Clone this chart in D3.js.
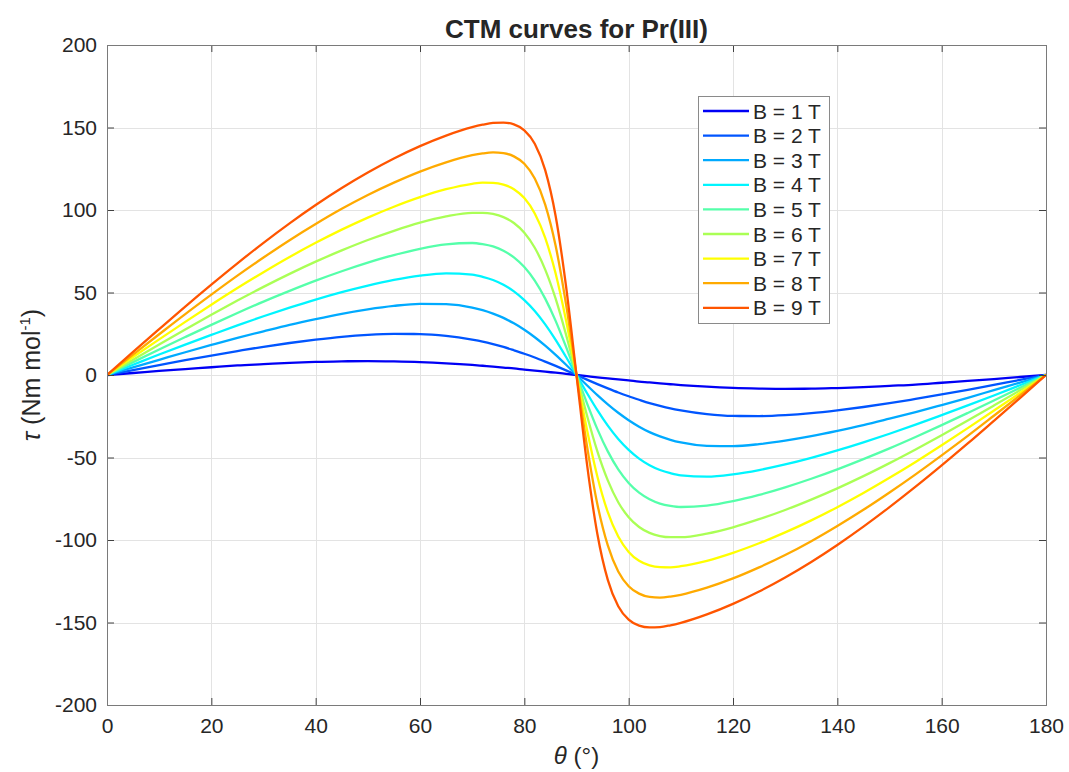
<!DOCTYPE html>
<html>
<head>
<meta charset="utf-8">
<script src="https://cdn.jsdelivr.net/npm/d3@7"></script>
<style>
  body { margin: 0; background: #fff; }
  svg { display: block; }
  text { font-family: "Liberation Sans", Arial, Helvetica, sans-serif; fill: #262626; }
</style>
</head>
<body>
<svg id="chart" width="1069" height="772"></svg>
<script>
// Rotation angle (degrees)
const theta = [0,5,10,15,20,25,30,35,40,45,50,55,60,65,70,72,74,76,78,80,82,84,86,88,90,
               92,94,96,98,100,102,104,106,108,110,115,120,125,130,135,140,145,150,155,160,165,170,175,180];

// Torque (Nm mol^-1) for each applied field
const tauB1 = [0,1.2,2.5,3.6,4.7,5.8,6.6,7.4,7.9,8.3,8.4,8.2,7.8,7.1,6.1,5.6,5.1,4.5,4.0,3.3,2.7,2.0,1.4,0.7,0,
               -0.7,-1.4,-2.0,-2.7,-3.3,-4.0,-4.5,-5.1,-5.6,-6.1,-7.1,-7.8,-8.2,-8.4,-8.3,-7.9,-7.4,-6.6,-5.8,-4.7,-3.6,-2.5,-1.2,0];
const tauB2 = [0,3.0,6.0,9.0,11.8,14.5,17.1,19.4,21.4,23.1,24.3,24.9,24.8,23.7,21.4,20.2,18.7,17.0,15.0,12.9,10.6,8.1,5.5,2.8,0,
               -2.8,-5.5,-8.1,-10.6,-12.9,-15.0,-17.0,-18.7,-20.2,-21.4,-23.7,-24.8,-24.9,-24.3,-23.1,-21.4,-19.4,-17.1,-14.5,-11.8,-9.0,-6.0,-3.0,0];
const tauB3 = [0,4.6,9.2,13.8,18.2,22.5,26.5,30.4,33.9,37.1,39.8,41.9,43.1,42.9,40.9,39.3,37.2,34.6,31.3,27.4,22.9,17.8,12.2,6.2,0,
               -6.2,-12.2,-17.8,-22.9,-27.4,-31.3,-34.6,-37.2,-39.3,-40.9,-42.9,-43.1,-41.9,-39.8,-37.1,-33.9,-30.4,-26.5,-22.5,-18.2,-13.8,-9.2,-4.6,0];
const tauB4 = [0,6.2,12.4,18.4,24.3,30.1,35.6,40.8,45.7,50.2,54.2,57.6,60.2,61.6,60.8,59.5,57.6,54.7,50.7,45.4,38.8,30.7,21.3,10.9,0,
               -10.9,-21.3,-30.7,-38.8,-45.4,-50.7,-54.7,-57.6,-59.5,-60.8,-61.6,-60.2,-57.6,-54.2,-50.2,-45.7,-40.8,-35.6,-30.1,-24.3,-18.4,-12.4,-6.2,0];
const tauB5 = [0,7.8,15.5,23.0,30.4,37.6,44.5,51.0,57.2,62.9,68.1,72.7,76.5,79.2,80.0,79.3,77.9,75.3,71.3,65.4,57.2,46.3,32.8,17.0,0,
               -17.0,-32.8,-46.3,-57.2,-65.4,-71.3,-75.3,-77.9,-79.3,-80.0,-79.2,-76.5,-72.7,-68.1,-62.9,-57.2,-51.0,-44.5,-37.6,-30.4,-23.0,-15.5,-7.8,0];
const tauB6 = [0,9.3,18.5,27.6,36.5,45.1,53.4,61.3,68.7,75.5,81.8,87.4,92.3,96.1,98.3,98.3,97.6,95.7,92.1,86.2,77.1,63.9,46.3,24.4,0,
               -24.4,-46.3,-63.9,-77.1,-86.2,-92.1,-95.7,-97.6,-98.3,-98.3,-96.1,-92.3,-87.4,-81.8,-75.5,-68.7,-61.3,-53.4,-45.1,-36.5,-27.6,-18.5,-9.3,0];
const tauB7 = [0,10.9,21.6,32.2,42.6,52.7,62.3,71.5,80.1,88.1,95.4,102.0,107.8,112.6,115.9,116.6,116.5,115.4,112.6,107.2,97.9,83.1,61.5,33.0,0,
               -33.0,-61.5,-83.1,-97.9,-107.2,-112.6,-115.4,-116.5,-116.6,-115.9,-112.6,-107.8,-102.0,-95.4,-88.1,-80.1,-71.5,-62.3,-52.7,-42.6,-32.2,-21.6,-10.9,0];
const tauB8 = [0,12.4,24.7,36.9,48.7,60.2,71.2,81.7,91.5,100.7,109.1,116.6,123.3,128.9,133.2,134.3,134.9,134.5,132.5,128.0,119.1,103.3,78.3,42.8,0,
               -42.8,-78.3,-103.3,-119.1,-128.0,-132.5,-134.5,-134.9,-134.3,-133.2,-128.9,-123.3,-116.6,-109.1,-100.7,-91.5,-81.7,-71.2,-60.2,-48.7,-36.9,-24.7,-12.4,0];
const tauB9 = [0,14.0,27.8,41.5,54.8,67.7,80.1,91.9,103.0,113.3,122.7,131.2,138.7,145.1,150.2,151.7,152.8,153.0,151.9,148.3,140.2,124.2,96.4,53.7,0,
               -53.7,-96.4,-124.2,-140.2,-148.3,-151.9,-153.0,-152.8,-151.7,-150.2,-145.1,-138.7,-131.2,-122.7,-113.3,-103.0,-91.9,-80.1,-67.7,-54.8,-41.5,-27.8,-14.0,0];

const fieldLabels = ["B = 1 T","B = 2 T","B = 3 T","B = 4 T","B = 5 T","B = 6 T","B = 7 T","B = 8 T","B = 9 T"];
const seriesColors = ["#0000f5","#0055ff","#00aaff","#00f5ff","#55ffaa","#aaff55","#ffff00","#ffaa00","#ff5500"];
const xTicks = [0,20,40,60,80,100,120,140,160,180];
const yTicks = [-200,-150,-100,-50,0,50,100,150,200];

const series = [tauB1,tauB2,tauB3,tauB4,tauB5,tauB6,tauB7,tauB8,tauB9];

const plot = { left: 107, right: 1046, top: 45, bottom: 705 };
const svg = d3.select("#chart");

const x = d3.scaleLinear().domain([0, 180]).range([plot.left, plot.right]);
const y = d3.scaleLinear().domain([-200, 200]).range([plot.bottom, plot.top]);

// grid
const grid = svg.append("g").attr("stroke", "#e3e3e3").attr("stroke-width", 1);
grid.selectAll("line.gx").data(xTicks).join("line")
  .attr("x1", d => Math.round(x(d)) + 0.5).attr("x2", d => Math.round(x(d)) + 0.5)
  .attr("y1", plot.top).attr("y2", plot.bottom);
grid.selectAll("line.gy").data(yTicks).join("line")
  .attr("y1", d => Math.round(y(d)) + 0.5).attr("y2", d => Math.round(y(d)) + 0.5)
  .attr("x1", plot.left).attr("x2", plot.right);

// curves
svg.append("clipPath").attr("id", "plotClip").append("rect")
  .attr("x", plot.left).attr("y", plot.top)
  .attr("width", plot.right - plot.left).attr("height", plot.bottom - plot.top);

const line = d3.line()
  .x((d, i) => x(theta[i]))
  .y(d => y(d))
  .curve(d3.curveMonotoneX);

svg.append("g").attr("clip-path", "url(#plotClip)")
  .selectAll("path").data(series).join("path")
  .attr("d", d => line(d))
  .attr("fill", "none")
  .attr("stroke", (d, i) => seriesColors[i])
  .attr("stroke-width", 2.3)
  .attr("stroke-linejoin", "round");

// axes (ticks point inward, mirrored on top/right)
const tickFont = 21;
const plainNumber = d => String(d);
function styleAxis(g) {
  g.selectAll(".domain").remove();
  g.selectAll(".tick line").attr("stroke", "#404040");
  g.selectAll(".tick text").attr("font-size", tickFont).attr("fill", "#262626")
    .attr("font-family", '"Liberation Sans", Arial, sans-serif');
}
svg.append("g").attr("transform", `translate(0,${plot.bottom})`)
  .call(d3.axisBottom(x).tickValues(xTicks).tickFormat(plainNumber).tickSizeInner(-7).tickSizeOuter(0).tickPadding(13))
  .call(styleAxis);
svg.append("g").attr("transform", `translate(${plot.left},0)`)
  .call(d3.axisLeft(y).tickValues(yTicks).tickFormat(plainNumber).tickSizeInner(-7).tickSizeOuter(0).tickPadding(10))
  .call(styleAxis);
svg.append("g").attr("transform", `translate(0,${plot.top})`)
  .call(d3.axisTop(x).tickValues(xTicks).tickSizeInner(-7).tickSizeOuter(0).tickFormat(""))
  .call(styleAxis);
svg.append("g").attr("transform", `translate(${plot.right},0)`)
  .call(d3.axisRight(y).tickValues(yTicks).tickSizeInner(-7).tickSizeOuter(0).tickFormat(""))
  .call(styleAxis);

// axes box
svg.append("rect")
  .attr("x", plot.left + 0.5).attr("y", plot.top + 0.5)
  .attr("width", plot.right - plot.left).attr("height", plot.bottom - plot.top)
  .attr("fill", "none").attr("stroke", "#7a7a7a").attr("stroke-width", 1);

// title
svg.append("text")
  .attr("x", (plot.left + plot.right) / 2).attr("y", 38)
  .attr("text-anchor", "middle").attr("font-size", 26).attr("font-weight", "bold")
  .text("CTM curves for Pr(III)");

// x label
const xl = svg.append("text")
  .attr("x", (plot.left + plot.right) / 2).attr("y", 764)
  .attr("text-anchor", "middle").attr("font-size", 24);
xl.append("tspan").attr("font-style", "italic").text("θ");
xl.append("tspan").text(" (°)");

// y label
const yl = svg.append("text")
  .attr("transform", `translate(40,${(plot.top + plot.bottom) / 2}) rotate(-90)`)
  .attr("text-anchor", "middle").attr("font-size", 25);
yl.append("tspan").attr("font-style", "italic").text("τ");
yl.append("tspan").text(" (Nm mol");
yl.append("tspan").attr("font-size", 15).attr("dy", -10).text("-1");
yl.append("tspan").attr("dy", 10).text(")");

// legend
const legend = svg.append("g");
const lg = { x: 698, y: 96, w: 131, h: 227, row: 24.6, first: 111 };
legend.append("rect")
  .attr("x", lg.x + 0.5).attr("y", lg.y + 0.5).attr("width", lg.w).attr("height", lg.h)
  .attr("fill", "#fff").attr("stroke", "#8a8a8a").attr("stroke-width", 1);
const rows = legend.selectAll("g.row").data(fieldLabels).join("g")
  .attr("transform", (d, i) => `translate(0,${lg.first + i * lg.row})`);
rows.append("line")
  .attr("x1", lg.x + 5).attr("x2", lg.x + 51).attr("y1", 0).attr("y2", 0)
  .attr("stroke", (d, i) => seriesColors[i]).attr("stroke-width", 2.3);
rows.append("text")
  .attr("x", lg.x + 55).attr("y", 0).attr("dy", "0.36em")
  .attr("font-size", 21).text(d => d);
</script>
</body>
</html>
